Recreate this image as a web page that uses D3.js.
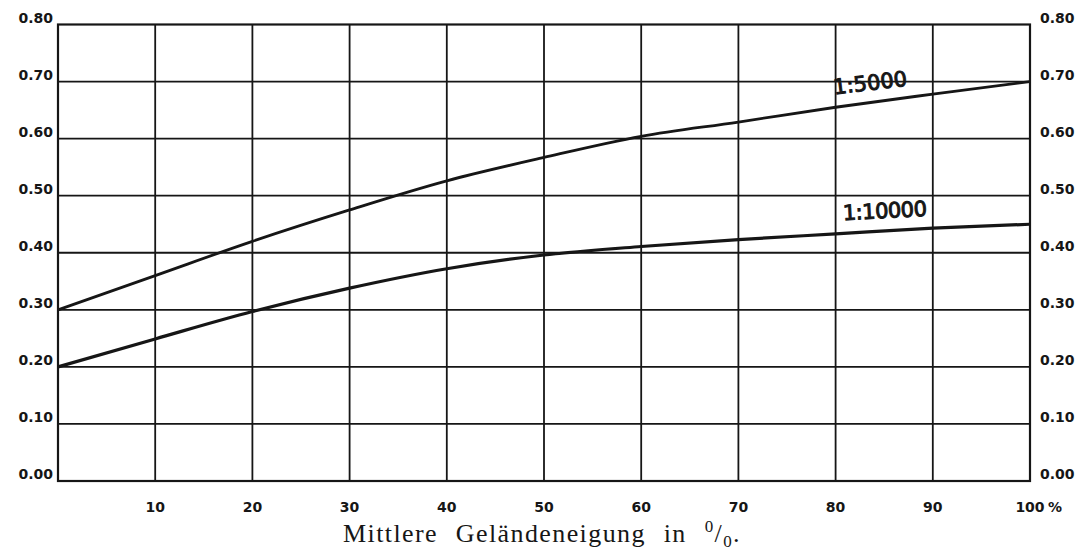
<!DOCTYPE html>
<html>
<head>
<meta charset="utf-8">
<script src="https://cdn.jsdelivr.net/npm/d3@7"></script>
<style>
  body { margin: 0; background: #fff; }
  svg { display: block; }
</style>
</head>
<body>
<svg id="chart" width="1076" height="554"></svg>
<script>
// slope of terrain in percent
var slopes = [0, 10, 20, 30, 40, 50, 60, 70, 80, 90, 100];
var scale5000  = [0.30, 0.36, 0.42, 0.475, 0.526, 0.567, 0.604, 0.629, 0.655, 0.678, 0.70];
var scale10000 = [0.20, 0.249, 0.297, 0.338, 0.372, 0.396, 0.411, 0.423, 0.433, 0.443, 0.45];
var seriesNames = ["1:5000", "1:10000"];

var xTicks = [10, 20, 30, 40, 50, 60, 70, 80, 90, 100];
var yTicks = [0, 0.1, 0.2, 0.3, 0.4, 0.5, 0.6, 0.7, 0.8];
var xTitle = "Mittlere Geländeneigung in ";

var svg = d3.select("#chart"),
    width = +svg.attr("width"),
    height = +svg.attr("height");

var ink = "#161616";

var x = d3.scaleLinear().domain([0, 100]).range([58, 1030]);
var y = d3.scaleLinear().domain([0, 0.8]).range([481, 24.5]);

// grid
var grid = svg.append("g");
grid.selectAll("line.v")
    .data(xTicks.slice(0, -1))
    .enter().append("line")
    .attr("x1", function(d) { return x(d); })
    .attr("x2", function(d) { return x(d); })
    .attr("y1", y(0.8)).attr("y2", y(0))
    .attr("stroke", ink).attr("stroke-width", 1.8);

grid.selectAll("line.h")
    .data(yTicks.slice(1, -1))
    .enter().append("line")
    .attr("x1", x(0)).attr("x2", x(100))
    .attr("y1", function(d) { return y(d); })
    .attr("y2", function(d) { return y(d); })
    .attr("stroke", ink).attr("stroke-width", 1.8);

// frame
svg.append("rect")
    .attr("x", x(0)).attr("y", y(0.8))
    .attr("width", x(100) - x(0)).attr("height", y(0) - y(0.8))
    .attr("fill", "none").attr("stroke", ink).attr("stroke-width", 2.2);

// y labels, both sides
var fmt = d3.format(".2f");
svg.append("g").selectAll("text")
    .data(yTicks)
    .enter().append("text")
    .attr("x", 53)
    .attr("y", function(d) { return y(d) - 2; })
    .attr("text-anchor", "end")
    .style("font-family", "'DejaVu Sans'")
    .style("font-weight", "bold")
    .style("font-size", "14px")
    .attr("fill", ink)
    .text(function(d) { return fmt(d); });

svg.append("g").selectAll("text")
    .data(yTicks)
    .enter().append("text")
    .attr("x", 1040)
    .attr("y", function(d) { return y(d) - 2; })
    .style("font-family", "'DejaVu Sans'")
    .style("font-weight", "bold")
    .style("font-size", "14px")
    .attr("fill", ink)
    .text(function(d) { return fmt(d); });

// x labels
svg.append("g").selectAll("text")
    .data(xTicks)
    .enter().append("text")
    .attr("x", function(d) { return x(d); })
    .attr("y", 512)
    .attr("text-anchor", "middle")
    .style("font-family", "'DejaVu Sans'")
    .style("font-weight", "bold")
    .style("font-size", "14px")
    .attr("fill", ink)
    .text(function(d) { return d; });

svg.append("text")
    .attr("x", x(100) + 18)
    .attr("y", 512)
    .style("font-family", "'DejaVu Sans'")
    .style("font-weight", "bold")
    .style("font-size", "14px")
    .attr("fill", ink)
    .text("%");

// axis title
var title = svg.append("text")
    .attr("x", 343)
    .attr("y", 542)
    .style("font-family", "'Liberation Serif'")
    .style("font-size", "26px")
    .style("letter-spacing", "1.4px")
    .style("word-spacing", "10px")
    .attr("fill", ink);
title.append("tspan").text(xTitle);
title.append("tspan").attr("dy", -10).style("font-size", "17px").text("0");
title.append("tspan").attr("dy", 10).text("/");
title.append("tspan").attr("dy", 5).style("font-size", "17px").text("0");
title.append("tspan").attr("dy", -5).text(".");

// curves
var line = d3.line()
    .x(function(d, i) { return x(slopes[i]); })
    .y(function(d) { return y(d); })
    .curve(d3.curveMonotoneX);

svg.append("path")
    .attr("d", line(scale5000))
    .attr("fill", "none")
    .attr("stroke", ink)
    .attr("stroke-width", 2.8);

svg.append("path")
    .attr("d", line(scale10000))
    .attr("fill", "none")
    .attr("stroke", ink)
    .attr("stroke-width", 3.2);

// curve labels
svg.append("text")
    .attr("transform", "translate(871,90) rotate(-7)")
    .attr("text-anchor", "middle")
    .style("font-family", "'DejaVu Sans'")
    .style("font-size", "21px")
    .attr("fill", ink).attr("stroke", ink).attr("stroke-width", 1)
    .text(seriesNames[0]);

svg.append("text")
    .attr("transform", "translate(885,218) rotate(-3)")
    .attr("text-anchor", "middle")
    .style("font-family", "'DejaVu Sans'")
    .style("font-size", "21px")
    .style("letter-spacing", "-0.5px")
    .attr("fill", ink).attr("stroke", ink).attr("stroke-width", 1)
    .text(seriesNames[1]);
</script>
</body>
</html>
